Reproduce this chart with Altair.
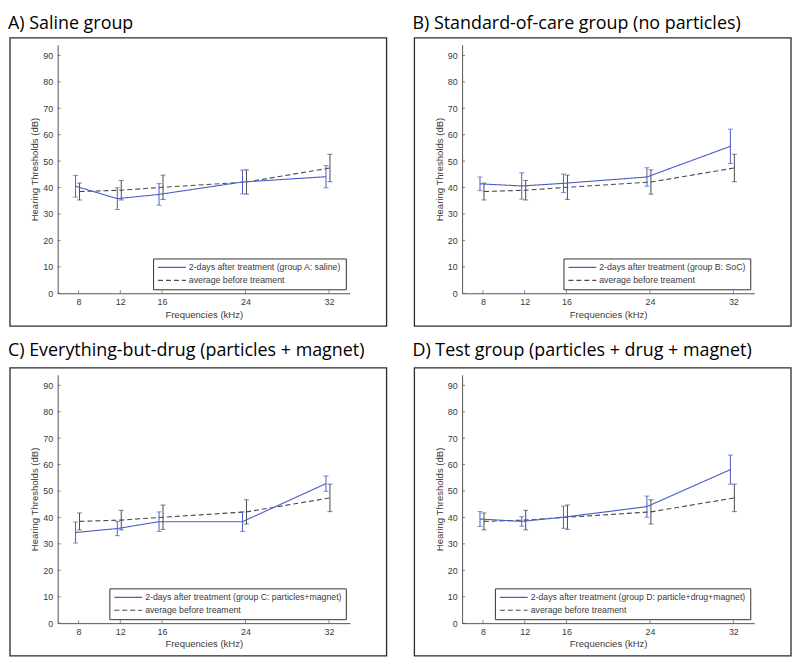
import altair as alt
import pandas as pd

# ---------------- data ----------------
freqs = [8, 12, 16, 24, 32]
y_ticks = [0, 10, 20, 30, 40, 50, 60, 70, 80, 90]

before_mean = [38.5, 39.0, 40.1, 42.1, 47.4]
before_err = [3.2, 3.7, 4.6, 4.6, 5.2]

a_mean = [40.5, 35.8, 37.4, 42.1, 44.1]
a_err = [4.1, 4.1, 4.1, 4.5, 4.2]
b_mean = [41.4, 40.6, 41.6, 44.0, 55.6]
b_err = [2.6, 5.0, 3.5, 3.5, 6.5]
c_mean = [34.3, 35.8, 38.4, 38.4, 52.8]
c_err = [4.0, 2.7, 3.7, 3.7, 2.9]
d_mean = [39.4, 38.5, 40.1, 44.1, 58.1]
d_err = [2.8, 1.8, 4.2, 4.0, 5.5]

panel_titles = [
    "A) Saline group",
    "B) Standard-of-care group (no particles)",
    "C) Everything-but-drug (particles + magnet)",
    "D) Test group (particles + drug + magnet)",
]
after_labels = [
    "2-days after treatment (group A: saline)",
    "2-days after treatment (group B: SoC)",
    "2-days after treatment (group C: particles+magnet)",
    "2-days after treatment (group D: particle+drug+magnet)",
]
before_label = "average before treament"

# ---------------- style ----------------
W, H = 294, 250
BLUE = "#4a5cc6"
DARK = "#4a4a4a"
AX = "#555555"
TXT = "#3a3a3a"
FONT = "Liberation Sans"


def panel(title, after_label, mean, err, title_y):
    df = pd.DataFrame({
        "freq": freqs * 2,
        "mean": mean + before_mean,
        "err": err + before_err,
        "series": [after_label] * len(freqs) + [before_label] * len(freqs),
    })
    base = alt.Chart(df).transform_calculate(
        lo="datum.mean - datum.err", hi="datum.mean + datum.err"
    )
    x_axis = alt.Axis(values=freqs, title="Frequencies (kHz)", ticks=False,
                      labelPadding=4, titlePadding=3)
    y_axis = alt.Axis(values=y_ticks, title="Hearing Thresholds (dB)", ticks=False,
                      labelPadding=5, titlePadding=3)
    xsc = alt.Scale(domain=[6, 34], nice=False, zero=False)
    ysc = alt.Scale(domain=[0, 94], nice=False)

    def X(f):
        return alt.X(f, scale=xsc, axis=x_axis)

    def Y(f):
        return alt.Y(f, scale=ysc, axis=y_axis)

    dom = [after_label, before_label]
    color = alt.Color("series:N", scale=alt.Scale(domain=dom, range=[BLUE, DARK]),
                      legend=alt.Legend(title=None))
    dash = alt.StrokeDash("series:N", scale=alt.Scale(domain=dom, range=[[1, 0], [5, 3]]),
                          legend=alt.Legend(title=None))

    layers = []
    for lab, col, off in [(before_label, DARK, 1), (after_label, BLUE, -3)]:
        sub = base.transform_filter(alt.datum.series == lab)
        layers.append(sub.mark_line(strokeWidth=1.1, xOffset=off).encode(
            x=X("freq:Q"), y=Y("mean:Q"), color=color, strokeDash=dash))
        layers.append(sub.mark_rule(color=col, strokeWidth=1, xOffset=off).encode(
            x=X("freq:Q"), y=Y("lo:Q"), y2="hi:Q"))
        layers.append(sub.transform_fold(["lo", "hi"], as_=["end", "yv"]).mark_tick(
            orient="horizontal", size=5, thickness=1, color=col, xOffset=off).encode(
            x=X("freq:Q"), y=Y("yv:Q")))

    # inward axis ticks
    yt = alt.Chart(pd.DataFrame({"v": y_ticks})).mark_tick(
        orient="horizontal", size=3, thickness=1, color=AX).encode(
        y=Y("v:Q"), x=alt.value(1.5))
    xt = alt.Chart(pd.DataFrame({"f": freqs})).mark_tick(
        orient="vertical", size=3, thickness=1, color=AX).encode(
        x=X("f:Q"), y=alt.value(H - 1.5))

    tdat = alt.Data(values=[{"t": title}])
    frame = alt.Chart(tdat).mark_rect(filled=False, stroke="#2b2b2b", strokeWidth=1.3).encode(
        x=alt.value(-48), x2=alt.value(W + 37), y=alt.value(-7), y2=alt.value(H + 33))
    ttl = alt.Chart(tdat).mark_text(align="left", baseline="alphabetic", font="Open Sans",
                                     fontSize=18, color="black").encode(
        text="t:N", x=alt.value(-50), y=alt.value(title_y))

    return alt.layer(frame, ttl, yt, xt, *layers).properties(width=W, height=H)


pA = panel(panel_titles[0], after_labels[0], a_mean, a_err, -16)
pB = panel(panel_titles[1], after_labels[1], b_mean, b_err, -16)
pC = panel(panel_titles[2], after_labels[2], c_mean, c_err, -19)
pD = panel(panel_titles[3], after_labels[3], d_mean, d_err, -19)

chart = alt.concat(pA, pB, pC, pD, columns=2, spacing={"row": 15, "column": 25}).resolve_scale(
    color="independent", strokeDash="independent"
).resolve_legend(color="independent", strokeDash="independent").properties(
    padding={"top": 5, "left": 0, "right": 0, "bottom": 0}, background="white"
).configure_view(stroke=None).configure_axis(
    grid=False, domainColor=AX, domainWidth=1, labelColor=TXT, labelFont=FONT,
    labelFontSize=9, titleFont=FONT, titleFontSize=9.6, titleFontWeight="normal",
    titleColor=TXT
).configure_legend(
    orient="bottom-right", offset=4, strokeColor="#333333", fillColor="white",
    padding=4, labelFont=FONT, labelFontSize=8.8, labelColor=TXT, labelLimit=0,
    symbolType="stroke", symbolSize=784, symbolStrokeWidth=1.2, clipHeight=10,
    rowPadding=3, labelOffset=2, cornerRadius=0
)

chart.save("out.html", embed_options={"renderer": "svg", "actions": False})
